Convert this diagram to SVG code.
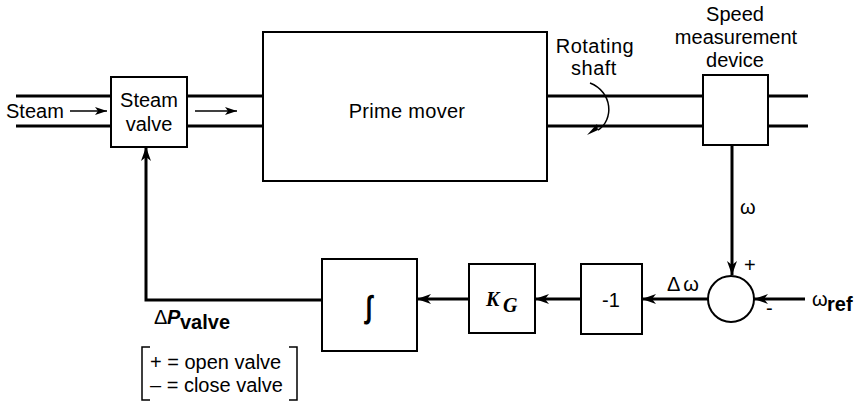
<svg xmlns="http://www.w3.org/2000/svg" width="854" height="403" viewBox="0 0 854 403">
<defs>
<marker id="arr" markerUnits="userSpaceOnUse" markerWidth="16" markerHeight="12" viewBox="0 0 16 12" refX="15" refY="6" orient="auto">
<path d="M1,1 L15,6 L1,11 L5,6 Z" fill="#000"/>
</marker>
<marker id="arrs" markerUnits="userSpaceOnUse" markerWidth="14" markerHeight="10" viewBox="0 0 14 10" refX="13" refY="5" orient="auto">
<path d="M1,1 L13,5 L1,9 L4,5 Z" fill="#000"/>
</marker>
</defs>
<style>
.box{fill:#fff;stroke:#000;stroke-width:2}
.pipe{stroke:#000;stroke-width:3;fill:none}
.sig{stroke:#000;stroke-width:3;fill:none}
.thin{stroke:#000;stroke-width:1.5;fill:none}
text{font-family:"Liberation Sans",Arial,sans-serif;font-size:20px;fill:#000}
.c{text-anchor:middle}
.math{font-family:"Liberation Serif","Times New Roman",serif;font-style:italic}
</style>
<rect width="854" height="403" fill="#fff"/>
<g id="pipes">
<line class="pipe" x1="16" y1="96" x2="111" y2="96"/>
<line class="pipe" x1="16" y1="126" x2="111" y2="126"/>
<line class="pipe" x1="187" y1="96" x2="263" y2="96"/>
<line class="pipe" x1="187" y1="126" x2="263" y2="126"/>
<line class="pipe" x1="547" y1="96" x2="703" y2="96"/>
<line class="pipe" x1="547" y1="126" x2="703" y2="126"/>
<line class="pipe" x1="768" y1="96" x2="808" y2="96"/>
<line class="pipe" x1="768" y1="126" x2="808" y2="126"/>
</g>
<g id="connectors">
<line class="thin" x1="70" y1="111" x2="107" y2="111" marker-end="url(#arrs)"/>
<line class="thin" x1="195" y1="111" x2="237" y2="111" marker-end="url(#arrs)"/>
<line class="sig" x1="732" y1="145" x2="732" y2="275" marker-end="url(#arr)"/>
<line class="sig" x1="805" y1="299" x2="754" y2="299" marker-end="url(#arr)"/>
<line class="sig" x1="708" y1="299" x2="642" y2="299" marker-end="url(#arr)"/>
<line class="sig" x1="581" y1="299" x2="535" y2="299" marker-end="url(#arr)"/>
<line class="sig" x1="469" y1="299" x2="417" y2="299" marker-end="url(#arr)"/>
<polyline class="sig" points="322,300 146,300 146,147" marker-end="url(#arr)"/>
<path class="thin" d="M590,83 C613,92 614,120 598,130" />
<path d="M598,130 L587,135 L597,124 Z" fill="#000"/>
</g>
<g id="steam-valve">
<rect class="box" x="111" y="77" width="76" height="70"/>
<text class="c" x="149" y="107">Steam</text>
<text class="c" x="149" y="131">valve</text>
</g>
<g id="prime-mover">
<rect class="box" x="263" y="32" width="284" height="149"/>
<text class="c" x="407" y="118" letter-spacing="0.3">Prime mover</text>
</g>
<g id="speed-device">
<rect class="box" x="703" y="75" width="65" height="70"/>
<text class="c" x="735" y="21">Speed</text>
<text class="c" x="736" y="44">measurement</text>
<text class="c" x="735" y="67">device</text>
</g>
<g id="integrator">
<rect class="box" x="322" y="259" width="95" height="92"/>
<text class="c" x="0" y="0" transform="translate(369,318) scale(1.2,1.6)" font-family="'DejaVu Serif',serif" font-size="40" font-weight="bold" font-style="italic">∫</text>
</g>
<g id="gain">
<rect class="box" x="469" y="264" width="66" height="69"/>
<text class="math" x="486" y="306" font-size="25" font-weight="bold">K</text>
<text class="math" x="503" y="312" font-size="17" font-weight="bold">G</text>
</g>
<g id="neg">
<rect class="box" x="581" y="264" width="61" height="70"/>
<text class="c" x="611" y="307">-1</text>
</g>
<g id="sum">
<circle class="box" cx="731" cy="299" r="23"/>
<text x="744" y="272" font-size="18">+</text>
<text x="766" y="315" font-size="18">-</text>
</g>
<g id="labels">
<text x="6" y="118">Steam</text>
<text class="c" x="595" y="53" letter-spacing="0.5">Rotating</text>
<text class="c" x="594" y="75" letter-spacing="0.5">shaft</text>
<text x="740" y="214">ω</text>
<text x="667" y="291" letter-spacing="3">Δω</text>
<text x="812" y="306">ω</text>
<text x="827" y="311" font-size="12" font-weight="bold">ref</text>
<text x="154" y="324">Δ</text>
<text x="167" y="324" font-weight="bold" font-style="italic">P</text>
<text x="180" y="329" font-size="13" font-weight="bold">valve</text>
<path class="thin" d="M150,347 L142,347 L142,400 L150,400"/>
<path class="thin" d="M289,347 L297,347 L297,400 L289,400"/>
<text x="150" y="369">+ = open valve</text>
<text x="150" y="392">– = close valve</text>
</g>
</svg>
